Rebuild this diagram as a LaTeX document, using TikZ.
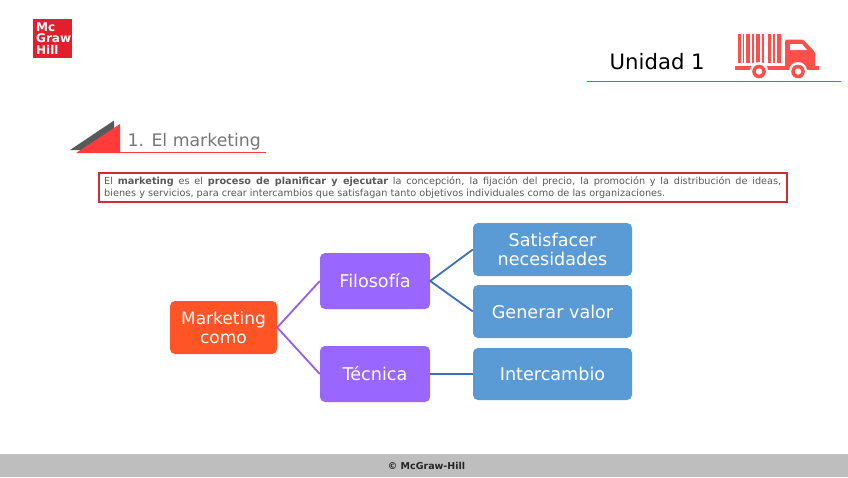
\documentclass[tikz,border=0pt]{standalone}
\usepackage{fontspec}
\setmainfont{DejaVu Sans}
\definecolor{mhred}{HTML}{E0202A}
\definecolor{framered}{HTML}{CC2E36}
\definecolor{tred}{HTML}{FF3B3B}
\definecolor{truckred}{HTML}{FF4F4A}
\definecolor{dgray}{HTML}{595959}
\definecolor{tgray}{HTML}{767676}
\definecolor{foot}{HTML}{BEBEBE}
\definecolor{orangebox}{HTML}{FF5526}
\definecolor{purplebox}{HTML}{9966FF}
\definecolor{bluebox}{HTML}{5B9BD5}
\definecolor{pline}{HTML}{8F60F5}
\definecolor{bline}{HTML}{3D6FBF}
\tikzset{
  x=1pt,y=-1pt,
  boxbase/.style={rounded corners=5pt,inner sep=0pt,align=center,text=white,font=\fontsize{17.6}{20}\selectfont},
  orangenode/.style={boxbase,fill=orangebox,minimum width=107pt,minimum height=53pt,font=\fontsize{17}{20}\selectfont},
  purplenode/.style={boxbase,fill=purplebox,minimum width=110pt,minimum height=56pt},
  bluenode/.style={boxbase,fill=bluebox,minimum width=159pt,minimum height=53pt},
  plink/.style={pline,line width=1.8pt},
  blink/.style={bline,line width=1.8pt},
}
\begin{document}
\begin{tikzpicture}
\useasboundingbox (0,0) rectangle (848,477);
\fill[white] (0,0) rectangle (848,477);
% footer
\fill[foot] (0,454) rectangle (848,477);
\node[font=\bfseries\fontsize{9.5}{11}\selectfont,text=black!85,inner sep=0pt] (foottext) at (426.5,466) {© McGraw-Hill};
% logo
\fill[mhred] (33,19) rectangle (72,57.5);
\node[anchor=north west,inner sep=0pt,align=left,text=white,font=\bfseries\fontsize{12}{11.5}\selectfont] (logo) at (36,22.5) {Mc\\Graw\\Hill};
% header
\node[anchor=base west,inner sep=0pt,font=\fontsize{21.2}{25}\selectfont,text=black] (unidad) at (609.5,69) {Unidad 1};
% truck
\foreach \a/\b in {738/740.7,742.5/744,746/750,751.5/753.5,756/760,761.5/764,767.5/771,773/774.5,776.5/780.7}
  \fill[truckred] (\a,33.5) rectangle (\b,63);
\fill[truckred] (735,66) -- (819,66) -- (819,70) -- (735,70) -- cycle;
\fill[truckred,rounded corners=1.5pt] (785,67) -- (785,39.5) -- (803,39.5) -- (815,52) -- (815,67) -- cycle;
\fill[white] (790,44) -- (802,44) -- (807,50) -- (790,50) -- cycle;
\foreach \c in {759,798}{
  \fill[white] (\c,71) circle (9);
  \fill[truckred] (\c,71.5) circle (6.8);
  \fill[white] (\c,71.5) circle (3.2);
}
% section title
\fill[dgray] (70,150) -- (114,120.5) -- (114,150) -- cycle;
\fill[tred] (76,153) -- (120,124) -- (120,153) -- cycle;
\draw[tred,line width=1pt] (120,152.3) -- (266,152.3);
\draw[tred,line width=1.2pt] (587,81.6) -- (841,81.6);
\node[anchor=base west,inner sep=0pt,font=\fontsize{17.3}{20}\selectfont,text=tgray] (title) at (127.5,146.5) {1. El marketing};
% definition
\node[draw=framered,line width=1.5pt,minimum width=688pt,minimum height=29pt,inner sep=0pt,anchor=north west] (defbox) at (98,172.3) {};
\node[anchor=north west,inner sep=0pt,text width=677pt,align=justify,text=dgray,font=\fontsize{9.7}{12}\selectfont] (deftext) at (104,176.5)
{El \textbf{marketing} es el \textbf{proceso de planificar y ejecutar} la concepción, la fijación del precio, la promoción y la distribución de ideas,\linebreak bienes y servicios, para crear intercambios que satisfagan tanto objetivos individuales como de las organizaciones.};
% diagram
\node[orangenode] (mk) at (223.5,327.5) {Marketing\\[-1pt]como};
\node[purplenode] (fi) at (375,281) {Filosofía};
\node[purplenode] (te) at (375,374) {Técnica};
\node[bluenode] (sa) at (552.5,249.5) {Satisfacer\\[-1pt]necesidades};
\node[bluenode] (ge) at (552.5,311.5) {Generar valor};
\node[bluenode,minimum height=52pt] (in) at (552.5,374) {Intercambio};
\draw[plink] (fi.west) -- (mk.east) -- (te.west);
\draw[blink] (sa.west) -- (fi.east) -- (ge.west);
\draw[blink] (te.east) -- (in.west);
\end{tikzpicture}
\end{document}
